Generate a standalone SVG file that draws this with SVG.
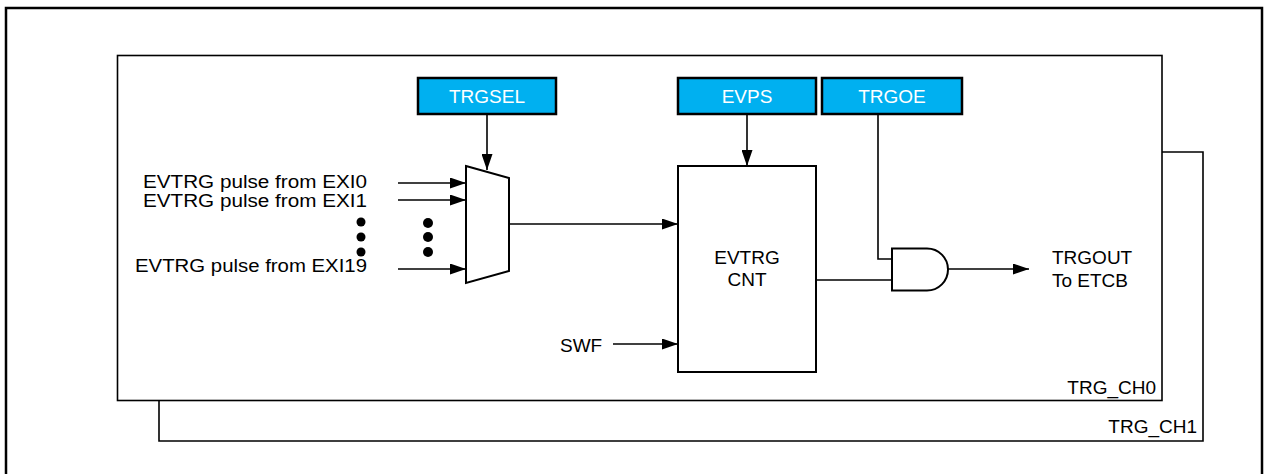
<svg xmlns="http://www.w3.org/2000/svg" width="1266" height="474" viewBox="0 0 1266 474">
<style>
text{font-family:"Liberation Sans",Arial,sans-serif;font-size:19px;fill:#000}
.reg rect{fill:#00B0F0;stroke:#000;stroke-width:2.5}
.reg text{fill:#fff;text-anchor:middle}
.ln{fill:none;stroke:#000;stroke-width:1.6}
.blk{fill:#fff;stroke:#000;stroke-width:2}
.inl{font-size:18px;text-anchor:end}
</style>
<defs>
<marker id="ah" viewBox="0 0 16 11" refX="16" refY="5.5" markerWidth="16" markerHeight="11" markerUnits="userSpaceOnUse" orient="auto">
<path d="M0,0 L16,5.5 L0,11 z" fill="#000"/>
</marker>
</defs>
<rect width="1266" height="474" fill="#fff"/>
<rect x="6" y="8" width="1256" height="480" fill="none" stroke="#000" stroke-width="2.5"/>
<g id="trg_ch1">
<path class="ln" d="M1162,152 H1203 V441 H159 V400"/>
<text x="1197" y="433" text-anchor="end">TRG_CH1</text>
</g>
<g id="trg_ch0">
<rect x="117.5" y="55.5" width="1044.5" height="345" fill="none" stroke="#000" stroke-width="1.6"/>
<text x="1156" y="394" text-anchor="end">TRG_CH0</text>
</g>
<g id="inputs">
<text class="inl" x="367" y="188" textLength="224" lengthAdjust="spacingAndGlyphs">EVTRG pulse from EXI0</text>
<text class="inl" x="367" y="207" textLength="224" lengthAdjust="spacingAndGlyphs">EVTRG pulse from EXI1</text>
<text class="inl" x="367" y="272" textLength="232" lengthAdjust="spacingAndGlyphs">EVTRG pulse from EXI19</text>
<circle cx="361" cy="222" r="4.5"/>
<circle cx="361" cy="237" r="4.5"/>
<circle cx="361" cy="252" r="4.5"/>
<circle cx="428" cy="223" r="5"/>
<circle cx="428" cy="237" r="5"/>
<circle cx="428" cy="252" r="5"/>
</g>
<g id="trgsel" class="reg">
<rect x="418" y="78" width="138" height="36"/>
<text x="487" y="103">TRGSEL</text>
</g>
<g id="evps" class="reg">
<rect x="678" y="78" width="138" height="36"/>
<text x="747" y="103">EVPS</text>
</g>
<g id="trgoe" class="reg">
<rect x="822" y="78" width="140" height="36"/>
<text x="892" y="103">TRGOE</text>
</g>
<g id="mux">
<path class="blk" d="M466,166 L509,178 L509,271 L466,283 Z"/>
</g>
<g id="evtrg_cnt">
<rect class="blk" x="678" y="166" width="138" height="206"/>
<text x="747" y="264" text-anchor="middle">EVTRG</text>
<text x="747" y="286" text-anchor="middle">CNT</text>
</g>
<g id="swf">
<text x="560" y="352">SWF</text>
</g>
<g id="and_gate">
<path class="blk" d="M892,248.5 H927 A21,21 0 0 1 927,290.5 H892 Z"/>
</g>
<g id="trgout">
<text x="1052" y="264">TRGOUT</text>
<text x="1052" y="287">To ETCB</text>
</g>
<g id="connectors">
<path class="ln" d="M398,183 H466" marker-end="url(#ah)"/>
<path class="ln" d="M398,200 H466" marker-end="url(#ah)"/>
<path class="ln" d="M398,269 H466" marker-end="url(#ah)"/>
<path class="ln" d="M487,114 V170" marker-end="url(#ah)"/>
<path class="ln" d="M509,224 H678" marker-end="url(#ah)"/>
<path class="ln" d="M747,114 V166" marker-end="url(#ah)"/>
<path class="ln" d="M613,344 H678" marker-end="url(#ah)"/>
<path class="ln" d="M878,114 V259 H892"/>
<path class="ln" d="M816,280 H892"/>
<path class="ln" d="M948,269 H1029" marker-end="url(#ah)"/>
</g>
</svg>
